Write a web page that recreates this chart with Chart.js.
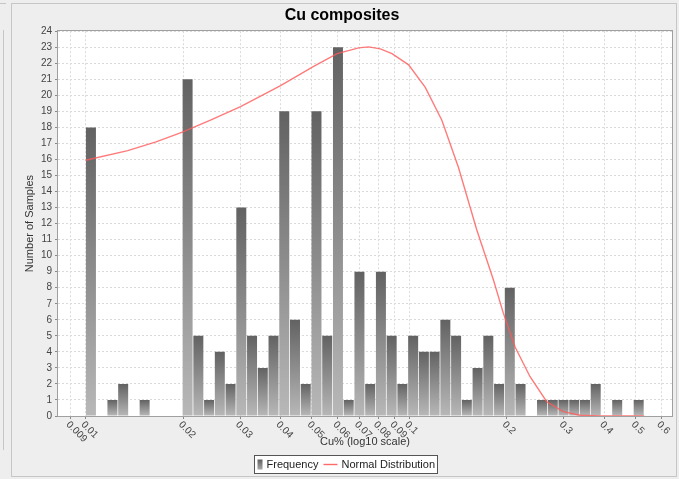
<!DOCTYPE html>
<html>
<head>
<meta charset="utf-8">
<script src="https://cdn.jsdelivr.net/npm/chart.js@4.4.1/dist/chart.umd.min.js"></script>
<style>
  html, body { margin: 0; padding: 0; background: #eeeeee; }
  canvas { display: block; }
</style>
</head>
<body>
<canvas id="c" width="679" height="479" style="width:679px;height:479px"></canvas>
<script>
// Histogram of Cu% on a log10 axis: equal-width log bins between these limits
const binMinCu = 0.01;
const binMaxCu = 0.53;
const binCounts = [18, 0, 1, 2, 0, 1, 0, 0, 0, 21, 5, 1, 4, 2, 13, 5, 3, 5, 19, 6,
                   2, 19, 5, 23, 1, 9, 2, 9, 5, 2, 5, 4, 4, 6, 5, 1, 3, 5, 2, 8,
                   2, 0, 1, 1, 1, 1, 1, 2, 0, 1, 0, 1];

// Fitted normal distribution, sampled as (Cu%, number of samples)
const curveCu = [0.01, 0.0135, 0.0165, 0.0199, 0.0243, 0.0301, 0.04, 0.0506, 0.0598, 0.0697, 0.0748,
                 0.0813, 0.0883, 0.0994, 0.1119, 0.1259, 0.1417, 0.1614, 0.1816, 0.195, 0.2119,
                 0.2357, 0.2653, 0.2985, 0.336, 0.387, 0.45, 0.53];
const curveCount = [15.95, 16.55, 17.1, 17.7, 18.45, 19.3, 20.6, 21.8, 22.6, 22.96, 23.02,
                    22.9, 22.6, 21.9, 20.5, 18.45, 15.5, 11.6, 8.5, 6.4, 4.3,
                    2.45, 0.89, 0.27, 0.05, 0.01, 0, 0];

// Axis ranges and ticks
const xMin = 0.00822;
const xMax = 0.6465;
const xTickValues = [0.009, 0.01, 0.02, 0.03, 0.04, 0.05, 0.06, 0.07, 0.08, 0.09, 0.1, 0.2, 0.3, 0.4, 0.5, 0.6];
const xTickLabels = ['0.009', '0.01', '0.02', '0.03', '0.04', '0.05', '0.06', '0.07', '0.08', '0.09', '0.1', '0.2', '0.3', '0.4', '0.5', '0.6'];
const yMax = 24;

const FONT = '"Liberation Sans", Arial, "DejaVu Sans", sans-serif';

// Bin centres in log space
const logLo = Math.log10(binMinCu);
const logStep = (Math.log10(binMaxCu) - logLo) / binCounts.length;
const binCenters = binCounts.map((_, i) => Math.pow(10, logLo + (i + 0.5) * logStep));

// Each bar gets a vertical grey gradient spanning its own height
function barFill(ctx) {
  const chart = ctx.chart;
  const ys = chart.scales.y;
  if (ctx.type !== 'data' || !ys || !ctx.parsed) return '#8a8a8a';
  const top = ys.getPixelForValue(ctx.parsed.y);
  const base = ys.getPixelForValue(0);
  if (!(base > top)) return '#8a8a8a';
  const g = chart.ctx.createLinearGradient(0, top, 0, base);
  g.addColorStop(0, '#626262');
  g.addColorStop(1, '#b8b8b8');
  return g;
}

// Panel background, plot frame, slanted x labels and boxed legend
const decor = {
  id: 'decor',
  beforeDraw(chart) {
    const { ctx, chartArea: a } = chart;
    ctx.save();
    ctx.fillStyle = '#eeeeee';
    ctx.fillRect(0, 0, chart.width, chart.height);
    ctx.strokeStyle = '#c6c6c6';
    ctx.lineWidth = 1;
    ctx.strokeRect(11.5, 3.5, 665, 473);
    ctx.beginPath();
    ctx.moveTo(3.5, 30); ctx.lineTo(3.5, 450);
    ctx.moveTo(0, 3.5); ctx.lineTo(6, 3.5);
    ctx.stroke();
    ctx.fillStyle = '#ffffff';
    ctx.fillRect(a.left, a.top, a.right - a.left, a.bottom - a.top);
    ctx.restore();
  },
  afterDraw(chart) {
    const { ctx, chartArea: a } = chart;
    const xs = chart.scales.x;
    ctx.save();
    // plot outline
    ctx.strokeStyle = '#a0a0a0';
    ctx.lineWidth = 1;
    ctx.strokeRect(Math.round(a.left) - 0.5, Math.round(a.top) - 0.5,
                   Math.round(a.right - a.left) + 1, Math.round(a.bottom - a.top) + 1);

    // x tick labels, rotated clockwise and hanging from their ticks
    ctx.fillStyle = '#444444';
    ctx.font = '10px ' + FONT;
    ctx.textAlign = 'left';
    ctx.textBaseline = 'middle';
    xTickValues.forEach((v, i) => {
      const px = xs.getPixelForValue(v);
      ctx.save();
      ctx.translate(px - 3, xs.top + 7);
      ctx.rotate(Math.PI / 4);
      ctx.fillText(xTickLabels[i], 0, 0);
      ctx.restore();
    });

    // legend
    const t1 = chart.data.datasets[1].label;
    const t2 = chart.data.datasets[0].label;
    ctx.font = '11px ' + FONT;
    const w1 = ctx.measureText(t1).width;
    const w2 = ctx.measureText(t2).width;
    const boxW = Math.round(3 + 5 + 4 + w1 + 5 + 14 + 4 + w2 + 3);
    const x0 = Math.round(345 - boxW / 2) + 0.5;
    const y0 = 455.5, h = 18, cy = y0 + h / 2;
    ctx.fillStyle = '#ffffff';
    ctx.fillRect(x0, y0, boxW, h);
    ctx.strokeStyle = '#555555';
    ctx.strokeRect(x0, y0, boxW, h);
    let x = x0 + 3;
    const g = ctx.createLinearGradient(0, cy - 5, 0, cy + 5);
    g.addColorStop(0, '#5e5e5e'); g.addColorStop(1, '#a8a8a8');
    ctx.fillStyle = g;
    ctx.fillRect(x, cy - 5, 5, 10);
    x += 9;
    ctx.fillStyle = '#222222';
    ctx.textAlign = 'left';
    ctx.textBaseline = 'middle';
    ctx.fillText(t1, x, cy + 0.5);
    x += w1 + 5;
    ctx.strokeStyle = 'rgba(255,90,90,0.9)';
    ctx.lineWidth = 1.4;
    ctx.beginPath(); ctx.moveTo(x, cy); ctx.lineTo(x + 14, cy); ctx.stroke();
    x += 18;
    ctx.fillText(t2, x, cy + 0.5);
    ctx.restore();
  }
};

new Chart(document.getElementById('c'), {
  type: 'bar',
  data: {
    datasets: [
      {
        type: 'line',
        label: 'Normal Distribution',
        data: curveCu.map((x, i) => ({ x: x, y: curveCount[i] })),
        borderColor: 'rgba(255,90,90,0.8)',
        borderWidth: 1.4,
        pointRadius: 0,
        tension: 0,
        fill: false,
        order: 0
      },
      {
        type: 'bar',
        label: 'Frequency',
        data: binCenters.map((x, i) => ({ x: x, y: binCounts[i] })),
        backgroundColor: barFill,
        borderWidth: 0,
        barPercentage: 0.93,
        categoryPercentage: 1,
        order: 1
      }
    ]
  },
  options: {
    responsive: false,
    animation: false,
    devicePixelRatio: 1,
    layout: { padding: { left: 12, right: 7, top: 0, bottom: 29 } },
    plugins: {
      legend: { display: false },
      tooltip: { enabled: false },
      title: {
        display: true,
        text: 'Cu composites',
        color: '#000000',
        font: { family: FONT, size: 16, weight: 'bold', lineHeight: 1.2 },
        padding: { top: 6, bottom: 6 }
      }
    },
    scales: {
      x: {
        type: 'logarithmic',
        min: xMin,
        max: xMax,
        offset: false,
        grid: { offset: false, color: '#dadada', tickColor: '#888888', tickLength: 3 },
        border: { display: false, dash: [2, 2] },
        ticks: { display: false },
        afterBuildTicks: (s) => { s.ticks = xTickValues.map(v => ({ value: v })); },
        afterFit: (s) => { s.height = 34; },
        title: {
          display: true,
          text: 'Cu% (log10 scale)',
          color: '#333333',
          font: { family: FONT, size: 11, lineHeight: 1.2 },
          padding: { top: 0, bottom: 1.6 }
        }
      },
      y: {
        min: 0,
        max: yMax,
        ticks: { stepSize: 1, autoSkip: false, color: '#444444', font: { family: FONT, size: 10 }, padding: 3 },
        grid: { color: '#dadada', tickColor: '#888888', tickLength: 3 },
        border: { display: false, dash: [2, 2] },
        afterFit: (s) => { s.width = 46; },
        title: {
          display: true,
          text: 'Number of Samples',
          color: '#333333',
          font: { family: FONT, size: 11, lineHeight: 1.2 },
          padding: { top: 11.4, bottom: 0 }
        }
      }
    }
  },
  plugins: [decor]
});
</script>
</body>
</html>
